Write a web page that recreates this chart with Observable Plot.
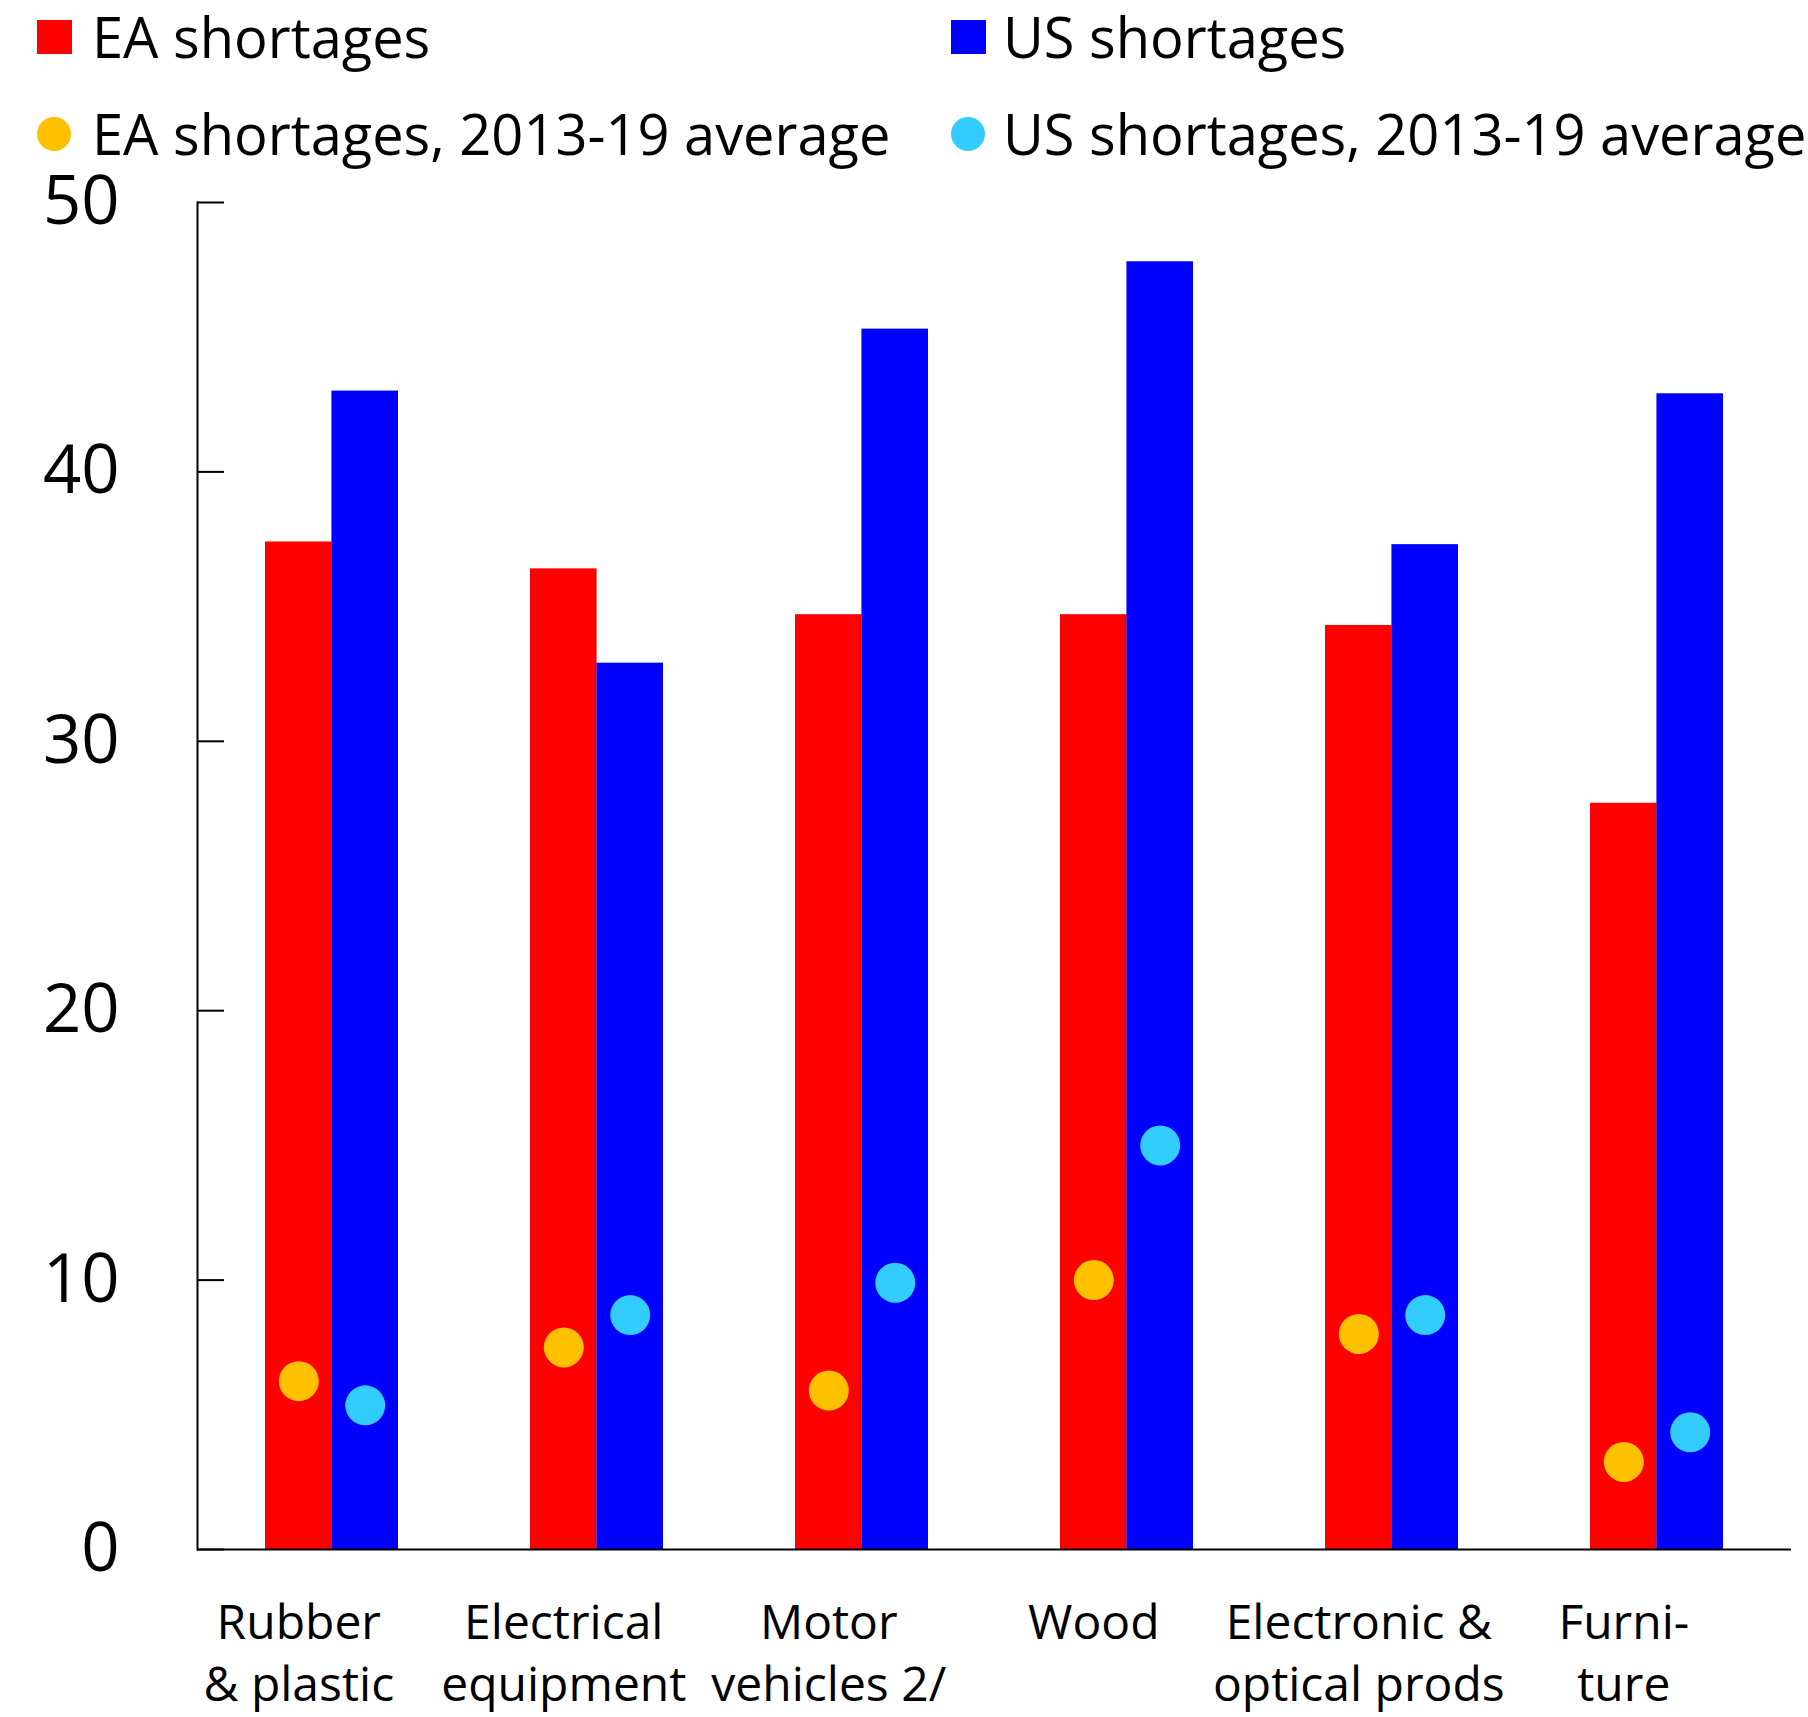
<!DOCTYPE html>
<html>
<head>
<meta charset="utf-8">
<script src="https://cdn.jsdelivr.net/npm/d3@7"></script>
<script src="https://cdn.jsdelivr.net/npm/@observablehq/plot@0.6"></script>
<style>
  body { margin: 0; background: #fff; }
  #legend, #chart { display: block; }
  svg { display: block; }
</style>
</head>
<body>
<div id="legend"></div>
<div id="chart"></div>
<script>
// Industries (category order along the x axis) and their two-line tick labels
const categories = ["Rubber & plastic", "Electrical equipment", "Motor vehicles 2/", "Wood", "Electronic & optical prods", "Furniture"];
const tickLabels = ["Rubber\n& plastic", "Electrical\nequipment", "Motor\nvehicles 2/", "Wood", "Electronic &\noptical prods", "Furni-\nture"];

// Share of firms reporting shortages (per cent)
const eaShortages = [37.4, 36.4, 34.7, 34.7, 34.3, 27.7];
const usShortages = [43.0, 32.9, 45.3, 47.8, 37.3, 42.9];
const eaAverage = [6.25, 7.5, 5.9, 10.0, 8.0, 3.25];
const usAverage = [5.35, 8.7, 9.9, 15.0, 8.7, 4.35];

const seriesNames = ["EA shortages", "US shortages", "EA shortages, 2013-19 average", "US shortages, 2013-19 average"];
const seriesColors = ["#ff0000", "#0000ff", "#ffc000", "#33ccff"];
const yTicks = [0, 10, 20, 30, 40, 50];

const FONT = "'Open Sans', sans-serif";

// ---- Legend (two rows, two columns) ----
const LEGEND_H = 175;
const legend = d3.select("#legend").append("svg")
  .attr("width", 1808).attr("height", LEGEND_H)
  .style("font-family", FONT)
  .style("overflow", "visible");

const legendItems = [
  {name: seriesNames[0], color: seriesColors[0], shape: "square", x: 37, y: 20, tx: 92, ty: 58},
  {name: seriesNames[1], color: seriesColors[1], shape: "square", x: 951, y: 20, tx: 1003, ty: 58},
  {name: seriesNames[2], color: seriesColors[2], shape: "circle", x: 37, y: 117, tx: 92, ty: 155},
  {name: seriesNames[3], color: seriesColors[3], shape: "circle", x: 951, y: 117, tx: 1003, ty: 155}
];
for (const it of legendItems) {
  if (it.shape === "square") {
    legend.append("rect").attr("x", it.x).attr("y", it.y).attr("width", 35).attr("height", 34).attr("fill", it.color);
  } else {
    legend.append("circle").attr("cx", it.x + 17).attr("cy", it.y + 17).attr("r", 17).attr("fill", it.color);
  }
  legend.append("text").attr("x", it.tx).attr("y", it.ty)
    .attr("font-size", 56).attr("fill", "#000").text(it.name);
}

// ---- Chart ----
const W = 1808, H = 1717 - LEGEND_H, mL = 197, mR = 17, mT = 202 - LEGEND_H, mB = 168;
const n = categories.length;
const step = (W - mL - mR) / n;     // paddingInner 0.5 + 2 * paddingOuter 0.25 = one extra step
const half = (step * 0.5) / 2;       // width of a single bar within a category pair

const rows = categories.map((c, i) => ({
  category: c,
  ea: eaShortages[i],
  us: usShortages[i],
  eaAvg: eaAverage[i],
  usAvg: usAverage[i]
}));

const chart = Plot.plot({
  width: W,
  height: H,
  marginLeft: mL,
  marginRight: mR,
  marginTop: mT,
  marginBottom: mB,
  style: {fontFamily: FONT, color: "#000", background: "transparent", overflow: "visible"},
  x: {type: "band", domain: categories, paddingInner: 0.5, paddingOuter: 0.25},
  y: {domain: [0, 50]},
  marks: [
    Plot.barY(rows, {x: "category", y: "ea", fill: seriesColors[0], insetRight: half}),
    Plot.barY(rows, {x: "category", y: "us", fill: seriesColors[1], insetLeft: half}),
    Plot.dot(rows, {x: "category", y: "eaAvg", r: 20, fill: seriesColors[2], dx: -half / 2}),
    Plot.dot(rows, {x: "category", y: "usAvg", r: 20, fill: seriesColors[3], dx: half / 2}),
    Plot.ruleY([0], {stroke: "#000", strokeWidth: 2}),
    Plot.frame({anchor: "left", stroke: "#000", strokeWidth: 2}),
    Plot.axisY({ticks: yTicks, tickSize: -27, tickPadding: 105, fontSize: 67, strokeWidth: 2, label: null}),
    Plot.axisX({
      tickSize: 0,
      tickPadding: 45,
      fontSize: 48,
      lineHeight: 1.3,
      dx: -half / 2,
      label: null,
      tickFormat: (d) => tickLabels[categories.indexOf(d)]
    })
  ]
});
document.getElementById("chart").appendChild(chart);
</script>
</body>
</html>
